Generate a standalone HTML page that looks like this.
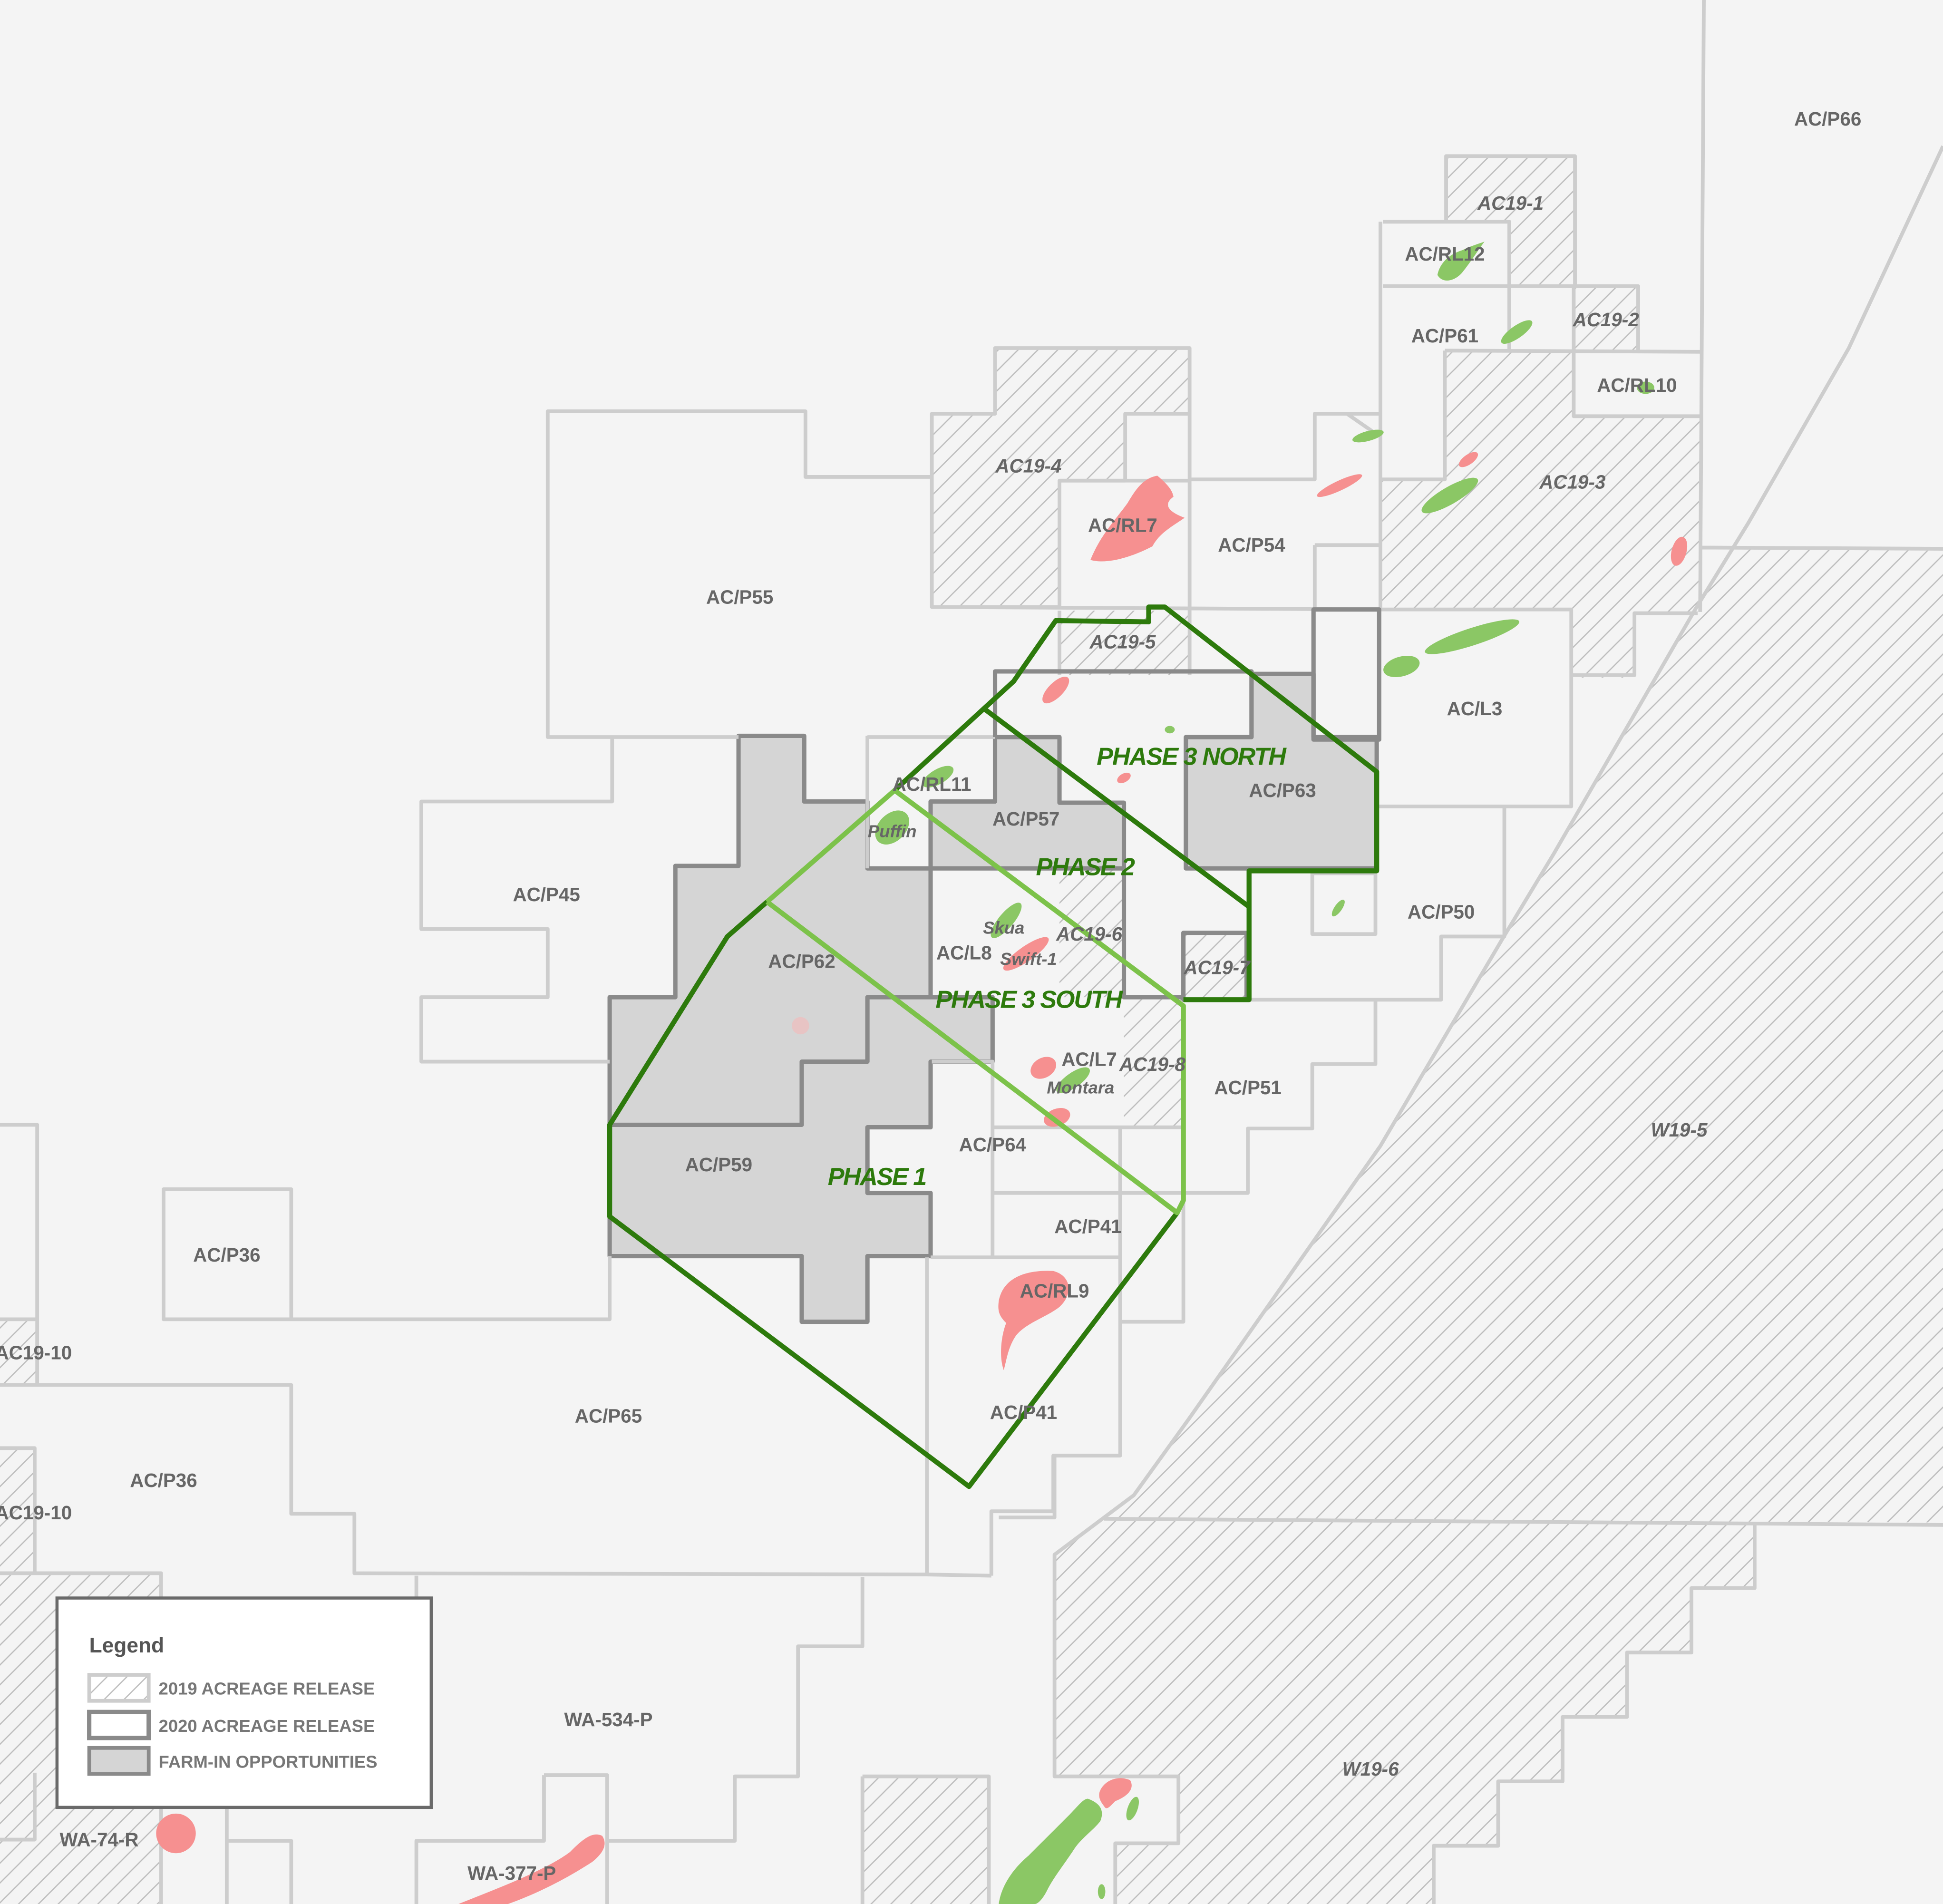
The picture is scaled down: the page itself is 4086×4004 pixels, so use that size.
<!DOCTYPE html>
<html><head><meta charset="utf-8"><style>
html,body{margin:0;padding:0;background:#f4f4f4;}
svg{display:block;}
text{font-family:"Liberation Sans",sans-serif;font-weight:bold;}
.l{font-size:15.5px;fill:#666;text-anchor:middle;dominant-baseline:central;}
.i{font-style:italic;}
.ph{font-size:20px;fill:#2d7a0c;font-style:italic;text-anchor:start;dominant-baseline:central;}
</style></head><body>
<svg width="4086" height="4004" viewBox="0 0 1568 1537" preserveAspectRatio="none" xmlns="http://www.w3.org/2000/svg">
<defs>
<pattern id="h" width="16" height="16" patternUnits="userSpaceOnUse">
<path d="M0,16 L16,0 M-3,3 L3,-3 M13,19 L19,13" stroke="#bdbdbd" stroke-width="1"/>
</pattern>
</defs>
<rect width="1568" height="1537" fill="#f4f4f4"/>

<g fill="url(#h)">
<path d="M1167,126 L1271,126 L1271,231 L1218,231 L1218,179 L1167,179Z"/>
<path d="M1270,231 L1322,231 L1322,284 L1270,284Z"/>
<path d="M1166,283 L1270,283 L1270,336 L1372,336 L1372,494 L1320,494 L1320,547 L1269,547 L1269,492 L1114,492 L1114,387 L1166,387Z"/>
<path d="M752,334 L803,334 L803,281 L960,281 L960,334 L908,334 L908,388 L855,388 L855,490 L752,490Z"/>
<path d="M855,493 L960,493 L960,545 L855,545Z"/>
<path d="M855,701 L907,701 L907,805 L855,805Z"/>
<path d="M955,753 L1006,753 L1006,807 L955,807Z"/>
<path d="M907,805 L955,805 L955,910 L907,910Z"/>
<path d="M1398,441 L1568,443 L1568,1229 L891,1226 L915,1207 L959,1146 L1114,925 L1213,757 L1254,689 L1368,492Z"/>
<path d="M851,1255 L891,1226 L1416,1231 L1416,1282 L1365,1282 L1365,1334 L1313,1334 L1313,1386 L1261,1386 L1261,1438 L1209,1438 L1209,1490 L1157,1490 L1157,1537 L900,1537 L900,1488 L951,1488 L951,1434 L851,1434Z"/>
<path d="M0,1270 L130,1270 L130,1537 L0,1537Z"/>
<path d="M0,1169 L28,1169 L28,1270 L0,1270Z"/>
<path d="M0,1065 L30,1065 L30,1118 L0,1118Z"/>
<path d="M696,1434 L798,1434 L798,1537 L696,1537Z"/>
</g>

<g fill="#d5d5d5" stroke="#8a8a8a" stroke-width="3.5" stroke-linejoin="round">
<path d="M492,805 L545,805 L545,699 L596,699 L596,594 L649,594 L649,647 L700,647 L700,701 L751,701 L751,805 L801,805 L801,857 L751,857 L751,910 L700,910 L700,963 L751,963 L751,1014 L700,1014 L700,1067 L647,1067 L647,1014 L492,1014Z"/>
<path d="M751,647 L803,647 L803,595 L855,595 L855,648 L907,648 L907,701 L751,701Z"/>
<path d="M957,595 L1010,595 L1010,544 L1060,544 L1060,595 L1111,595 L1111,701 L957,701Z"/>
</g>

<g fill="none" stroke="#cdcdcd" stroke-width="3" stroke-linejoin="round">
<path d="M752,385 L650,385 L650,332 L442,332 L442,595 L596,595"/>
<path d="M494,595 L494,647 L340,647 L340,750 L442,750 L442,805 L340,805 L340,857 L492,857"/>
<path d="M752,334 L803,334 L803,281 L960,281 L960,334 L908,334 L908,388 L855,388 L855,490 L752,490 Z"/>
<path d="M855,388 L960,388 M960,334 L960,545 M752,490 L1113,492 M855,493 L855,545 M960,387 L1061,387 L1061,334 L1113,334 M1087,334 L1113,352 M1061,440 L1113,440 M1061,440 L1061,492"/>
<path d="M1375,0 L1372,494 M1372,442 L1568,443"/>
<path d="M1114,179 L1114,492 M1116,179 L1218,179 L1218,231 M1167,179 L1167,126 L1271,126 L1271,231 M1116,231 L1322,231 L1322,284 M1218,231 L1218,283 M1166,283 L1372,284 M1166,283 L1166,387 L1114,387 M1270,231 L1270,336 L1372,336"/>
<path d="M1113,492 L1268,492 L1268,651 L1113,651 M1268,545 L1319,545 L1319,495 L1370,495"/>
<path d="M1214,651 L1214,756 L1163,756 L1163,807 L1009,807 M1110,807 L1110,859 L1059,859 L1059,911 L1007,911 L1007,963 L955,963"/>
<path d="M1059,705 L1110,705 L1110,754 L1059,754 Z"/>
<path d="M700,595 L803,595 M700,594 L700,701 M752,857 L801,857 L801,963 M801,910 L955,910 M904,910 L904,1067 M801,963 L955,963 L955,1067 L904,1067 M801,963 L801,1015 M751,1015 L904,1015 M904,1067 L904,1175 L850,1175 L850,1220 L800,1220 L800,1272 M748,1015 L748,1272"/>
<path d="M0,908 L30,908 L30,1118 M0,1065 L30,1065 M132,960 L235,960 L235,1065 L132,1065 Z M235,1065 L492,1065 L492,1014"/>
<path d="M0,1118 L235,1118 L235,1222 L286,1222 L286,1270 L748,1271 L800,1272 M0,1169 L28,1169 L28,1270 M0,1270 L130,1270 L130,1290 M336,1272 L336,1290"/>
<path d="M130,1458 L130,1537 M183,1458 L183,1537 M183,1486 L235,1486 L235,1537 M0,1485 L28,1485 L28,1431"/>
<path d="M696,1273 L696,1329 L644,1329 L644,1434 L593,1434 L593,1486 L490,1486 M439,1433 L490,1433 L490,1537 M439,1433 L439,1486 L336,1486 L336,1537"/>
<path d="M696,1434 L798,1434 L798,1537 M696,1434 L696,1537"/>
<path d="M806,1225 L851,1225 L851,1175 L904,1175"/>
<path d="M1568,118 L1492,281 L1411,422 L1368,492 L1254,689 L1213,757 L1114,925 L959,1146 L915,1207 L851,1255 L851,1434 L951,1434 L951,1488 L900,1488 L900,1537"/>
<path d="M891,1226 L1568,1231"/>
<path d="M1416,1231 L1416,1282 L1365,1282 L1365,1334 L1313,1334 L1313,1386 L1261,1386 L1261,1438 L1209,1438 L1209,1490 L1157,1490 L1157,1537"/>
</g>

<g fill="none" stroke="#8a8a8a" stroke-width="3.5" stroke-linejoin="round">
<path d="M803,595 L803,542 L1010,542 L1010,595"/>
<path d="M1060,492 L1113,492 L1113,597 L1060,597 Z"/>
<path d="M907,701 L907,805 L955,805"/>
<path d="M955,753 L1006,753 L1006,807 L955,807 Z"/>
<path d="M492,908 L647,908 L647,857 L700,857 L700,805 L751,805"/>
</g>

<g fill="#f69090">
<path d="M880,452 C888,432 900,420 910,406 C916,396 922,386 934,384 C941,390 946,395 947,401 C940,406 940,412 956,418 C946,425 936,430 930,441 C915,449 894,456 880,452 Z"/>
<ellipse cx="1081" cy="392" rx="20" ry="4" transform="rotate(-25 1081 392)"/>
<ellipse cx="1185" cy="371" rx="9" ry="4" transform="rotate(-35 1185 371)"/>
<ellipse cx="1355" cy="445" rx="6" ry="12" transform="rotate(15 1355 445)"/>
<ellipse cx="852" cy="557" rx="14" ry="6" transform="rotate(-45 852 557)"/>
<ellipse cx="907" cy="628" rx="6" ry="3.5" transform="rotate(-30 907 628)"/>
<ellipse cx="828" cy="770" rx="22" ry="6" transform="rotate(-35 828 770)"/>
<ellipse cx="842" cy="862" rx="11" ry="8" transform="rotate(-30 842 862)"/>
<ellipse cx="853" cy="902" rx="11" ry="7" transform="rotate(-20 853 902)"/>
<path d="M806,1050 C810,1030 830,1025 850,1026 C865,1030 866,1045 855,1055 C845,1063 828,1068 820,1078 C813,1088 812,1100 810,1106 C806,1095 808,1078 812,1068 C806,1062 805,1058 806,1050 Z"/>
<circle cx="142" cy="1480" r="16"/>
<path d="M370,1537 C400,1525 440,1510 460,1495 C470,1485 478,1478 486,1482 C490,1488 488,1495 478,1503 C455,1518 430,1530 410,1537 Z"/>
<path d="M888,1445 C892,1437 902,1433 912,1437 C916,1444 910,1450 900,1454 C896,1458 893,1462 891,1458 C887,1453 886,1449 888,1445 Z"/>
<circle cx="646" cy="828" r="7" fill="#e8c4c4"/>
</g>

<g fill="#8bc765">
<path d="M1160,222 C1162,212 1170,205 1180,202 C1188,198 1196,196 1198,195 C1192,203 1188,210 1180,220 C1175,226 1165,230 1160,222 Z"/>
<ellipse cx="1224" cy="268" rx="15" ry="5" transform="rotate(-35 1224 268)"/>
<ellipse cx="1328" cy="313" rx="7" ry="5"/>
<ellipse cx="1104" cy="352" rx="13" ry="4" transform="rotate(-15 1104 352)"/>
<ellipse cx="1170" cy="400" rx="26" ry="7" transform="rotate(-30 1170 400)"/>
<ellipse cx="1188" cy="514" rx="40" ry="7" transform="rotate(-18 1188 514)"/>
<ellipse cx="1131" cy="538" rx="15" ry="8" transform="rotate(-15 1131 538)"/>
<ellipse cx="944" cy="589" rx="4" ry="3"/>
<ellipse cx="757" cy="627" rx="14" ry="6" transform="rotate(-30 757 627)"/>
<ellipse cx="720" cy="668" rx="16" ry="11" transform="rotate(-45 720 668)"/>
<ellipse cx="812" cy="743" rx="18" ry="6" transform="rotate(-50 812 743)"/>
<ellipse cx="866" cy="872" rx="16" ry="6" transform="rotate(-35 866 872)"/>
<ellipse cx="1080" cy="733" rx="8" ry="3" transform="rotate(-55 1080 733)"/>
<path d="M806,1537 C808,1522 818,1508 830,1498 C842,1486 852,1476 862,1466 C870,1458 874,1452 878,1452 C886,1455 892,1460 888,1470 C882,1478 872,1484 866,1494 C858,1506 850,1516 845,1526 C842,1532 838,1537 835,1537 Z"/>
<ellipse cx="914" cy="1460" rx="4" ry="10" transform="rotate(20 914 1460)"/>
<ellipse cx="889" cy="1527" rx="3" ry="6"/>
</g>

<g fill="none" stroke-width="4" stroke-linejoin="round">
<path d="M722,638 L794,572 L818,550 L852,501 L927,502 L927,490 L940,490 L1111,623 L1111,703 L1008,703 L1008,807 L955,807" stroke="#2d7a0c"/>
<path d="M794,572 L1008,732" stroke="#2d7a0c"/>
<path d="M950,979 L782,1200 L492,982 L492,908 L587,756 L619,728" stroke="#2d7a0c"/>
<path d="M619,728 L722,638 L955,812 L955,969 L950,979 L619,728" stroke="#7cc24a"/>
</g>

<text class="l" x="1475" y="96">AC/P66</text>
<text class="l i" x="1219" y="164">AC19-1</text>
<text class="l" x="1166" y="205">AC/RL12</text>
<text class="l i" x="1296" y="258">AC19-2</text>
<text class="l" x="1166" y="271">AC/P61</text>
<text class="l" x="1321" y="311">AC/RL10</text>
<text class="l i" x="1269" y="389">AC19-3</text>
<text class="l i" x="830" y="376">AC19-4</text>
<text class="l" x="906" y="424">AC/RL7</text>
<text class="l" x="1010" y="440">AC/P54</text>
<text class="l" x="597" y="482">AC/P55</text>
<text class="l i" x="906" y="518">AC19-5</text>
<text class="l" x="1190" y="572">AC/L3</text>
<text class="l" x="752" y="633">AC/RL11</text>
<text class="l" x="1035" y="638">AC/P63</text>
<text class="l" x="828" y="661">AC/P57</text>
<text class="l i" x="720" y="671" style="font-size:14px">Puffin</text>
<text class="l" x="441" y="722">AC/P45</text>
<text class="l" x="1163" y="736">AC/P50</text>
<text class="l i" x="810" y="749" style="font-size:14px">Skua</text>
<text class="l i" x="879" y="754">AC19-6</text>
<text class="l" x="778" y="769">AC/L8</text>
<text class="l i" x="830" y="774" style="font-size:14px">Swift-1</text>
<text class="l" x="647" y="776">AC/P62</text>
<text class="l i" x="982" y="781">AC19-7</text>
<text class="l" x="879" y="855">AC/L7</text>
<text class="l i" x="930" y="859">AC19-8</text>
<text class="l i" x="872" y="878" style="font-size:14px">Montara</text>
<text class="l" x="1007" y="878">AC/P51</text>
<text class="l i" x="1355" y="912">W19-5</text>
<text class="l" x="801" y="924">AC/P64</text>
<text class="l" x="580" y="940">AC/P59</text>
<text class="l" x="878" y="990">AC/P41</text>
<text class="l" x="183" y="1013">AC/P36</text>
<text class="l" x="851" y="1042">AC/RL9</text>
<text class="l" x="27" y="1092">AC19-10</text>
<text class="l" x="826" y="1140">AC/P41</text>
<text class="l" x="491" y="1143">AC/P65</text>
<text class="l" x="132" y="1195">AC/P36</text>
<text class="l" x="27" y="1221">AC19-10</text>
<text class="l" x="491" y="1388">WA-534-P</text>
<text class="l i" x="1106" y="1428">W19-6</text>
<text class="l" x="80" y="1485">WA-74-R</text>
<text class="l" x="413" y="1512">WA-377-P</text>

<text class="ph" x="885" y="611" textLength="153">PHASE 3 NORTH</text>
<text class="ph" x="836" y="700" textLength="80">PHASE 2</text>
<text class="ph" x="755" y="807" textLength="151">PHASE 3 SOUTH</text>
<text class="ph" x="668" y="950" textLength="80">PHASE 1</text>

<rect x="46" y="1290" width="302" height="169" fill="#ffffff" stroke="#6a6a6a" stroke-width="2.5"/>
<text x="72" y="1334" style="font-size:17px;fill:#555">Legend</text>
<rect x="72" y="1352" width="48" height="21" fill="url(#h)" stroke="#cdcdcd" stroke-width="3"/>
<rect x="72" y="1382" width="48" height="21" fill="#fff" stroke="#8a8a8a" stroke-width="3.5"/>
<rect x="72" y="1411" width="48" height="21" fill="#d5d5d5" stroke="#8a8a8a" stroke-width="3"/>
<text x="128" y="1368" style="font-size:14px;fill:#777">2019 ACREAGE RELEASE</text>
<text x="128" y="1398" style="font-size:14px;fill:#777">2020 ACREAGE RELEASE</text>
<text x="128" y="1427" style="font-size:14px;fill:#777">FARM-IN OPPORTUNITIES</text>
</svg>
</body></html>
